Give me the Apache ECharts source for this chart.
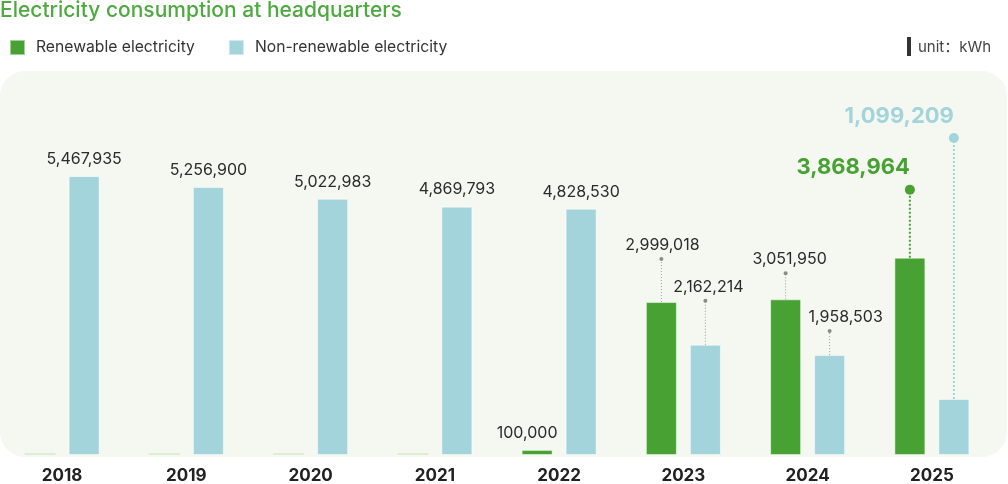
<!DOCTYPE html>
<html>
<head>
<meta charset="utf-8">
<script src="https://cdn.jsdelivr.net/npm/echarts@6/dist/echarts.min.js"></script>
<style>
  html, body { margin: 0; padding: 0; background: #fff; }
  #chart { width: 1008px; height: 484px; }
</style>
</head>
<body>
<div id="chart"></div>
<script>
// 数据
var years = ['2018', '2019', '2020', '2021', '2022', '2023', '2024', '2025'];
var renewable = [0, 0, 0, 0, 100000, 2999018, 3051950, 3868964];
var nonRenewable = [5467935, 5256900, 5022983, 4869793, 4828530, 2162214, 1958503, 1099209];
var highlightYear = '2025';

// 引线长度(px)，0 = 标签直接放在柱顶；shift = 标签水平微调
var renewableLift = [0, 0, 0, 0, 0, 43, 26, 68];
var renewableShift = [0, 0, 0, 0, -10, 1, 4, 0];
var nonRenewableLift = [0, 0, 0, 0, 0, 44, 24, 261];
var nonRenewableShift = [0, 0, 0, 0, 0, 3, 16, 0];

var GREEN = '#47a133';
var BLUE = '#a3d3db';
var FONT = 'Inter, "Noto Sans CJK SC", sans-serif';
var BAR_W = 31, BAR_GAP = 13;

function fmt(v) {
    return v.toLocaleString('en-US');
}

// 标签 + 引线
function labelSeries(name, values, lifts, shifts, color, side) {
    return {
        name: name,
        type: 'custom',
        silent: true,
        z: 5,
        clip: false,
        data: values.map(function (v, i) { return [i, v]; }),
        encode: {x: 0, y: 1},
        renderItem: function (params, api) {
            var idx = api.value(0), v = api.value(1);
            if (!v) return;
            var pt = api.coord([idx, v]);
            var x = pt[0] + side * (BAR_W + BAR_GAP) / 2;
            var top = pt[1];
            var lift = lifts[idx];
            var hl = years[idx] === highlightYear;
            var children = [];
            var textY;
            if (lift > 0) {
                var dotY = top - lift;
                children.push({
                    type: 'line',
                    shape: {x1: x, y1: top, x2: x, y2: dotY},
                    style: {
                        stroke: hl ? color : '#9a9a9a',
                        lineWidth: hl ? 2 : 1,
                        lineDash: hl ? [2, 2] : [1, 2]
                    }
                });
                children.push({
                    type: 'circle',
                    shape: {cx: x, cy: dotY, r: hl ? 5 : 2},
                    style: {fill: hl ? color : '#8a8a8a'}
                });
                textY = dotY - (hl ? 11 : 6);
            } else {
                textY = top - 9;
            }
            children.push({
                type: 'text',
                x: hl ? x : x + shifts[idx],
                y: textY,
                style: {
                    text: fmt(v),
                    fill: hl ? color : '#2b2b2b',
                    font: (hl ? 'bold 22px ' : '16px ') + FONT,
                    align: hl ? 'right' : 'center',
                    verticalAlign: 'bottom'
                }
            });
            return {type: 'group', children: children};
        }
    };
}

var chart = echarts.init(document.getElementById('chart'));
chart.setOption({
    animation: false,
    textStyle: {fontFamily: FONT},
    title: {
        text: 'Electricity consumption at headquarters',
        left: 0,
        top: 0,
        padding: 0,
        textStyle: {color: '#4daa3f', fontSize: 21, fontWeight: 500, fontFamily: FONT}
    },
    legend: {
        left: 9,
        top: 39,
        padding: 0,
        itemWidth: 15,
        itemHeight: 15,
        itemGap: 33,
        icon: 'rect',
        data: ['Renewable electricity', 'Non-renewable electricity'],
        textStyle: {color: '#333', fontSize: 15.7, padding: [0, 0, 0, 6], fontFamily: FONT}
    },
    graphic: [
        {
            type: 'rect',
            z: -10,
            silent: true,
            shape: {x: 0, y: 71, width: 1007, height: 386, r: 25},
            style: {fill: '#f5f8f0'}
        },
        {
            type: 'rect',
            silent: true,
            shape: {x: 907, y: 37, width: 4, height: 19},
            style: {fill: '#333'}
        },
        {
            type: 'text',
            silent: true,
            x: 918,
            y: 47,
            style: {text: 'unit：kWh', fill: '#444', font: '15px ' + FONT, verticalAlign: 'middle'}
        }
    ],
    grid: {left: 0, right: 14, top: 149, bottom: 27},
    xAxis: {
        type: 'category',
        data: years,
        axisLine: {show: false},
        axisTick: {show: false},
        axisLabel: {color: '#222', fontSize: 17, fontWeight: 'bold', margin: 12}
    },
    yAxis: {
        type: 'value',
        min: 0,
        max: 6000000,
        show: false
    },
    series: [
        {
            name: 'Renewable electricity',
            type: 'bar',
            barWidth: BAR_W,
            barGap: (BAR_GAP / BAR_W * 100) + '%',
            barMinHeight: 2,
            itemStyle: {color: GREEN, borderColor: 'rgba(255,255,255,0.5)', borderWidth: 1},
            data: renewable.map(function (v) {
                return v === 0 ? {value: v, itemStyle: {color: '#dcefd2', borderWidth: 0}} : v;
            })
        },
        {
            name: 'Non-renewable electricity',
            type: 'bar',
            barWidth: BAR_W,
            itemStyle: {color: BLUE, borderColor: 'rgba(255,255,255,0.5)', borderWidth: 1},
            data: nonRenewable
        },
        labelSeries('renewableLabel', renewable, renewableLift, renewableShift, GREEN, -1),
        labelSeries('nonRenewableLabel', nonRenewable, nonRenewableLift, nonRenewableShift, BLUE, 1)
    ]
});
</script>
</body>
</html>
